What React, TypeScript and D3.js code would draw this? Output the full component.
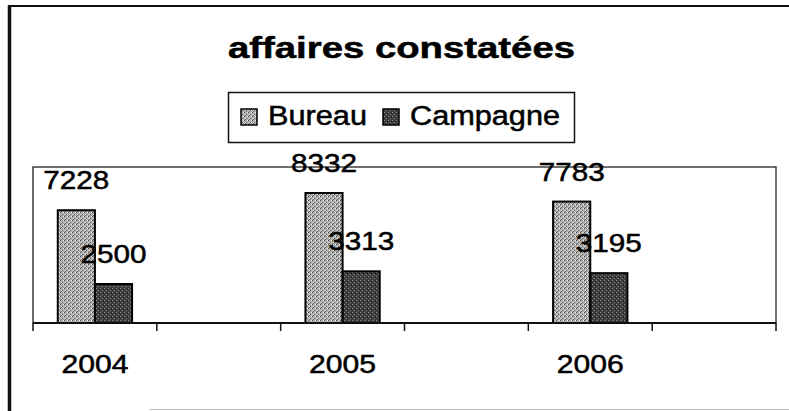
import React from "react";
import * as d3 from "d3";

const categories = ["2004", "", "2005", "", "2006", ""];
const seriesNames = ["Bureau", "Campagne"];
const bureau: (number | null)[] = [7228, null, 8332, null, 7783, null];
const campagne: (number | null)[] = [2500, null, 3313, null, 3195, null];
const titleText = "affaires constatées";

const W = 789;
const H = 411;

export default function App() {
  const plot = { left: 33, right: 776, top: 167, bottom: 323 };
  const x = d3.scaleBand<string>().domain(categories.map((c, i) => String(i))).range([plot.left, plot.right]).padding(0);
  const y = d3.scaleLinear().domain([0, 10000]).range([plot.bottom, plot.top]);
  const bw = x.bandwidth();
  const inner = d3.scaleBand<string>().domain(seriesNames).range([0, bw * 0.6]).padding(0);
  const groupOffset = bw * 0.2;
  const series = [bureau, campagne];
  const fills = ["url(#patB)", "url(#patC)"];
  const ticks = d3.range(categories.length + 1).map((i) => plot.left + i * bw);
  const txt = { stroke: "#000", strokeWidth: 0.5 };

  return (
    <svg width={W} height={H} style={{ position: "absolute", left: 0, top: 0, background: "#fff" }}
      fontFamily="'Liberation Sans', Arial, sans-serif">
      <defs>
        <pattern id="patB" width="4" height="4" patternUnits="userSpaceOnUse">
          <rect width="4" height="4" fill="#b0b0b0" />
          <rect x="0" y="0" width="1" height="1" fill="#444" />
          <rect x="2" y="2" width="1" height="1" fill="#555" />
          <rect x="3" y="0" width="1" height="1" fill="#eee" />
          <rect x="1" y="2" width="1" height="1" fill="#f2f2f2" />
          <rect x="1" y="3" width="1" height="1" fill="#666" />
        </pattern>
        <pattern id="patC" width="4" height="4" patternUnits="userSpaceOnUse">
          <rect width="4" height="4" fill="#3e3e3e" />
          <rect x="0" y="0" width="1" height="1" fill="#8a8a8a" />
          <rect x="2" y="2" width="1" height="1" fill="#8a8a8a" />
          <rect x="3" y="1" width="1" height="1" fill="#111" />
        </pattern>
      </defs>

      {/* outer frame */}
      <line x1={9} y1={6} x2={W} y2={6} stroke="#111" strokeWidth={2} />
      <line x1={9.5} y1={5} x2={9.5} y2={H} stroke="#111" strokeWidth={3.5} />
      <line x1={150} y1={409.5} x2={W} y2={409.5} stroke="#bbb" strokeWidth={1} />

      {/* title */}
      <text x={401.5} y={58} textAnchor="middle" fontSize={29} fontWeight="bold" fill="#000" {...txt}
        textLength={347} lengthAdjust="spacingAndGlyphs">{titleText}</text>

      {/* legend */}
      <rect x={228.5} y={92.5} width={346} height={50} fill="#fff" stroke="#111" strokeWidth={1.5} />
      <rect x={241} y={109} width={16} height={16} fill="url(#patB)" stroke="#000" strokeWidth={1.5} />
      <text x={268} y={125} fontSize={27} fill="#000" {...txt} textLength={99} lengthAdjust="spacingAndGlyphs">{seriesNames[0]}</text>
      <rect x={383} y={109} width={16} height={16} fill="url(#patC)" stroke="#000" strokeWidth={1.5} />
      <text x={410} y={125} fontSize={27} fill="#000" {...txt} textLength={150} lengthAdjust="spacingAndGlyphs">{seriesNames[1]}</text>

      {/* plot area border */}
      <rect x={plot.left} y={plot.top} width={plot.right - plot.left} height={plot.bottom - plot.top}
        fill="none" stroke="#222" strokeWidth={1.3} />

      {/* bars */}
      {series.map((vals, s) =>
        vals.map((v, i) =>
          v == null ? null : (
            <rect key={`b${s}-${i}`} x={(x(String(i)) as number) + groupOffset + (inner(seriesNames[s]) as number)}
              y={y(v)} width={inner.bandwidth()} height={y(0) - y(v)}
              fill={fills[s]} stroke="#000" strokeWidth={2} />
          )
        )
      )}

      {/* axis */}
      <line x1={plot.left} y1={plot.bottom} x2={plot.right} y2={plot.bottom} stroke="#111" strokeWidth={2} />
      {ticks.map((t, i) => (
        <line key={`t${i}`} x1={t} y1={plot.bottom} x2={t} y2={plot.bottom + 8} stroke="#111" strokeWidth={1.5} />
      ))}
      {categories.map((c, i) =>
        c ? (
          <text key={`c${i}`} x={(x(String(i)) as number) + bw / 2} y={373} textAnchor="middle" fontSize={25}
            fill="#000" {...txt} textLength={67} lengthAdjust="spacingAndGlyphs">{c}</text>
        ) : null
      )}

      {/* data labels */}
      {series.map((vals, s) =>
        vals.map((v, i) =>
          v == null ? null : (
            <text key={`l${s}-${i}`} x={(x(String(i)) as number) + groupOffset + (inner(seriesNames[s]) as number) + inner.bandwidth() / 2}
              y={y(v) - 21} textAnchor="middle" fontSize={25} fill="#000" {...txt}
              textLength={66} lengthAdjust="spacingAndGlyphs">{String(v)}</text>
          )
        )
      )}
    </svg>
  );
}
